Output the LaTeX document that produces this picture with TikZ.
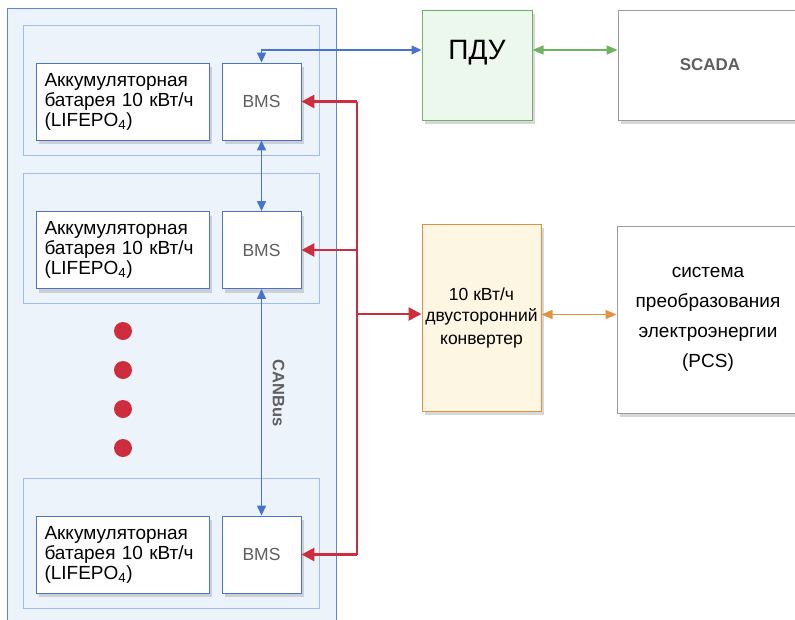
\documentclass[tikz,border=0pt]{standalone}
\usepackage{fontspec}
\setmainfont{Liberation Sans}
\usepackage{tikz}
\usetikzlibrary{positioning, arrows.meta, shadows}

\definecolor{rackfill}{RGB}{236,243,251}
\definecolor{rackline}{RGB}{95,135,205}
\definecolor{modline}{RGB}{160,190,235}
\definecolor{cellline}{RGB}{75,115,195}
\definecolor{canblue}{RGB}{70,115,205}
\definecolor{powred}{RGB}{205,45,60}
\definecolor{pdugreen}{RGB}{110,180,95}
\definecolor{pdufill}{RGB}{236,248,238}
\definecolor{convorange}{RGB}{230,145,65}
\definecolor{convfill}{RGB}{252,246,226}
\definecolor{boxgray}{RGB}{155,155,155}
\definecolor{textgray}{RGB}{95,95,95}

\tikzset{
  softshadow/.style={drop shadow={shadow xshift=3pt, shadow yshift=-4pt, opacity=0.45, fill=black!35}},
  cell/.style={draw=cellline, fill=white, line width=0.9pt, minimum height=77pt, inner sep=0pt, softshadow},
  battery/.style={cell, minimum width=173pt, text width=156pt, align=left,
    font=\fontsize{19}{20}\selectfont},
  bmsbox/.style={cell, minimum width=79pt, text=textgray, font=\fontsize{17.5}{20}\selectfont},
  module/.style={draw=modline, fill=rackfill, line width=0.8pt},
  rack/.style={draw=rackline, fill=rackfill, line width=1pt},
  canline/.style={draw=canblue, line width=1.3pt, {Triangle[length=10pt,width=9pt]}-{Triangle[length=10pt,width=9pt]}},
  powline/.style={draw=powred, line width=2.8pt},
  powarrow/.style={powline, -{Triangle[length=13pt,width=13pt]}},
  dot/.style={circle, fill=powred, inner sep=0pt, minimum size=18pt},
  grayblock/.style={draw=boxgray, fill=white, line width=0.9pt, softshadow},
}

\begin{document}
\begin{tikzpicture}[x=1pt, y=-1pt]
  \clip (0,0) rectangle (795,619);

  % battery rack
  \draw[rack] (7,8) rectangle (336,640);
  \foreach \y/\n in {101.5/1, 250/2, 554.5/3} {
    \draw[module] (23,\y-76.5) rectangle (319,\y+53.5);
    \node[battery] (bat\n) at (122.5,\y) {Аккумуляторная\\батарея 10 кВт/ч\\(LIFEPO\textsubscript{4})};
    \node[bmsbox] (bms\n) at (261.5,\y) {BMS};
  }
  \foreach \y/\i in {331/1, 370/2, 409/3, 448/4}
    \node[dot] (dot\i) at (123,\y) {};

  % CANBus
  \draw[canline] (bms1.south) -- (bms2.north);
  \draw[canline] (bms2.south) -- node[pos=0.46, rotate=-90, text=textgray,
    font=\fontsize{16.5}{18}\selectfont\bfseries, yshift=17pt] (canbus) {CANBus} (bms3.north);

  % control and grid side
  \node[draw=pdugreen, fill=pdufill, line width=1pt, minimum width=110pt, minimum height=110pt, softshadow] (pdu) at (477,65) {};
  \node[font=\fontsize{28}{30}\selectfont] (pdutext) at ([yshift=12pt]pdu.center) {ПДУ};
  \node[grayblock, minimum width=184pt, minimum height=110pt, text=textgray,
    font=\fontsize{17}{20}\selectfont\bfseries] (scada) at (710,65) {SCADA};
  \node[draw=convorange, fill=convfill, line width=1pt, minimum width=119pt, minimum height=187pt,
    align=center, font=\fontsize{17.5}{22.5}\selectfont, softshadow] (conv) at (481.5,317.5)
    {10 кВт/ч\\[-1pt]двусторонний\\конвертер};
  \node[grayblock, minimum width=182pt, minimum height=187pt, align=center,
    font=\fontsize{19}{30}\selectfont] (pcs) at (708,319.5)
    {система\\преобразования\\электроэнергии\\(PCS)};

  % links
  \draw[canline] (bms1.north) |- ([yshift=15pt]pdu.west);
  \draw[draw=pdugreen, line width=1.4pt, {Triangle[length=11pt,width=9pt]}-{Triangle[length=11pt,width=9pt]}]
    ([yshift=15pt]pdu.east) -- ([yshift=15pt]pdu.east -| scada.west);
  \draw[draw=convorange, line width=1.4pt, {Triangle[length=11pt,width=9pt]}-{Triangle[length=11pt,width=9pt]}]
    ([yshift=3pt]conv.east) -- ([yshift=3pt]conv.east -| pcs.west);

  % power bus
  \coordinate (busA) at (357,101.5);
  \coordinate (busB) at (357,250);
  \coordinate (busC) at (357,554.5);
  \coordinate (busD) at (357,314);
  \draw[powline] (busA) -- (busC);
  \draw[powarrow] (busA) -- (bms1.east);
  \draw[powarrow] (busB) -- (bms2.east);
  \draw[powarrow] (busC) -- (bms3.east);
  \draw[powarrow] (busD) -- (busD -| conv.west);
\end{tikzpicture}
\end{document}
